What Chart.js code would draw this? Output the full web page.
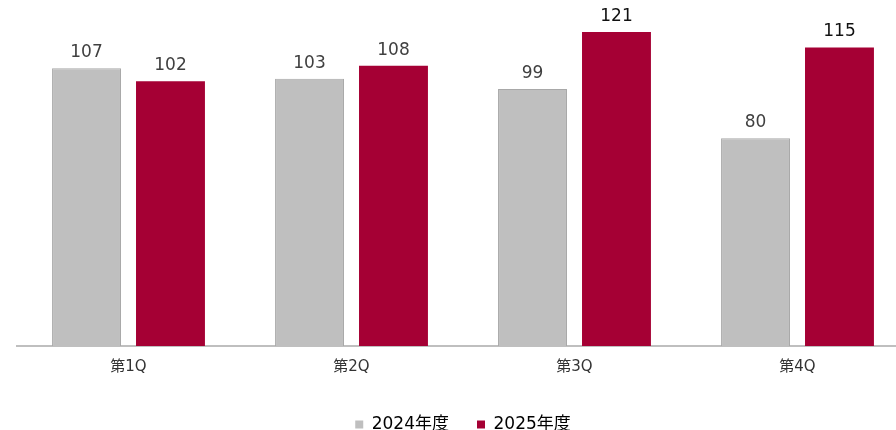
<!DOCTYPE html>
<html lang="ja">
<head>
  <meta charset="UTF-8">
  <title>四半期比較</title>
  <script src="https://cdn.jsdelivr.net/npm/chart.js"></script>
  <style>
    html, body {
      margin: 0;
      padding: 0;
      background: #ffffff;
      overflow: hidden;
    }
    .chart-box {
      position: absolute;
      left: 0;
      top: 0;
      width: 910px;
      height: 443px;
    }
  </style>
</head>
<body>
  <div class="chart-box">
    <canvas id="quarterChart"></canvas>
  </div>

  <script>
    const quarters = ['第1Q', '第2Q', '第3Q', '第4Q'];
    const seriesNames = ['2024年度', '2025年度'];
    const values2024 = [107, 103, 99, 80];
    const values2025 = [102, 108, 121, 115];

    const FONT = "'DejaVu Sans', 'Noto Sans CJK JP', sans-serif";

    // value labels drawn above each bar (no datalabels plugin offline)
    const barLabels = {
      id: 'barLabels',
      afterDatasetsDraw(chart) {
        const ctx = chart.ctx;
        ctx.save();
        ctx.font = '17px ' + FONT;
        ctx.textAlign = 'center';
        ctx.textBaseline = 'bottom';
        chart.data.datasets.forEach((ds, di) => {
          chart.getDatasetMeta(di).data.forEach((bar, i) => {
            const v = ds.data[i];
            ctx.fillStyle = (di === 1 && v > 110) ? '#111111' : '#404040';
            ctx.fillText(v, bar.x, bar.y - 7);
          });
        });
        ctx.restore();
      }
    };

    const ctx = document.getElementById('quarterChart').getContext('2d');
    new Chart(ctx, {
      type: 'bar',
      data: {
        labels: quarters,
        datasets: [
          {
            label: seriesNames[0],
            data: values2024,
            backgroundColor: '#bfbfbf',
            borderColor: '#a8a8a8',
            borderWidth: 1,
            categoryPercentage: 0.753,
            barPercentage: 0.821
          },
          {
            label: seriesNames[1],
            data: values2025,
            backgroundColor: '#a50034',
            borderColor: '#a50034',
            borderWidth: 0,
            categoryPercentage: 0.753,
            barPercentage: 0.821
          }
        ]
      },
      options: {
        responsive: true,
        maintainAspectRatio: false,
        animation: false,
        layout: {
          padding: { left: 17, right: 1, top: 0, bottom: 0 }
        },
        scales: {
          x: {
            grid: { display: false, drawTicks: false },
            border: { display: true, color: '#bfbfbf', width: 2 },
            ticks: {
              color: '#333333',
              padding: 12,
              font: { family: FONT, size: 15 }
            }
          },
          y: {
            display: false,
            min: 0,
            max: 133.3
          }
        },
        plugins: {
          legend: {
            position: 'bottom',
            labels: {
              boxWidth: 8,
              boxHeight: 8,
              padding: 28,
              color: '#333333',
              font: { family: FONT, size: 17 },
              generateLabels(chart) {
                return chart.data.datasets.map((ds, i) => ({
                  text: ds.label,
                  fillStyle: ds.backgroundColor,
                  strokeStyle: ds.backgroundColor,
                  lineWidth: 0,
                  datasetIndex: i
                }));
              }
            }
          },
          tooltip: { enabled: false }
        }
      },
      plugins: [barLabels]
    });
  </script>
</body>
</html>
